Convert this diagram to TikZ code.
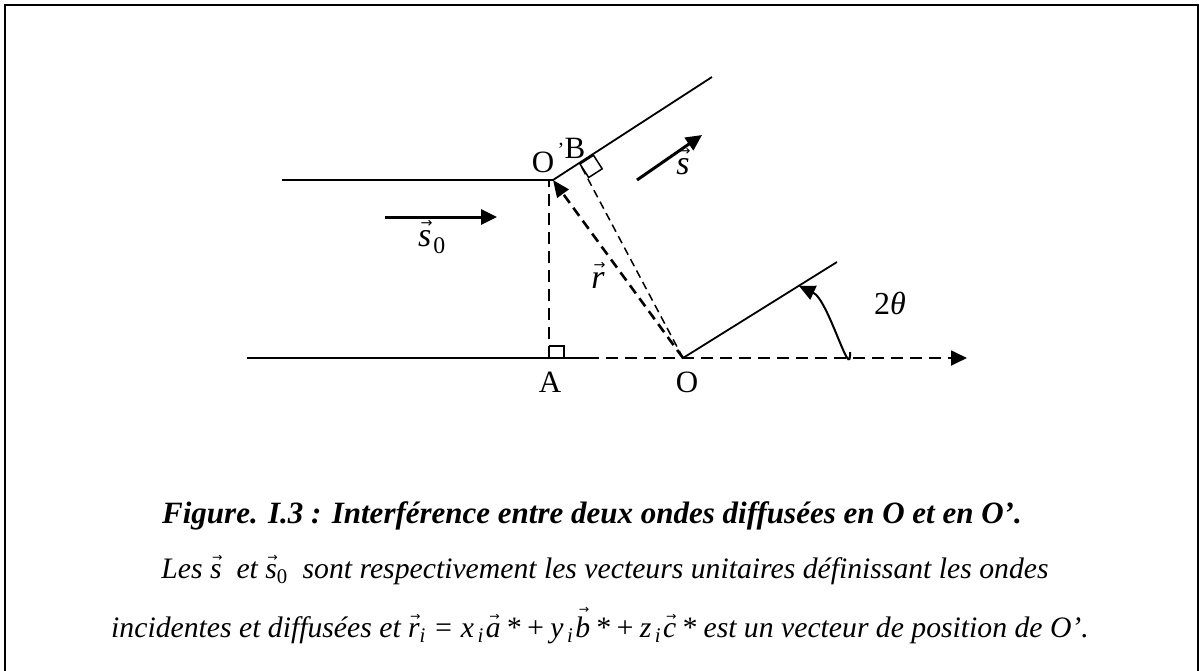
\documentclass[tikz,border=0pt]{standalone}
\usepackage{graphicx}
\usepackage{fontspec}
\setmainfont{Liberation Serif}
\newfontfamily\arrowfont{DejaVu Sans}
\usetikzlibrary{arrows.meta,calc}
\newcommand\vvraise[2]{{\ooalign{#2\cr\hidewidth\kern0.1em\raisebox{#1}{\scalebox{0.42}[0.4]{\upshape\arrowfont →}}\hidewidth\cr}}}
\newcommand\vv[1]{\vvraise{0.55em}{#1}}
\newcommand\vvtall[1]{\vvraise{0.8em}{#1}}
\begin{document}
\begin{tikzpicture}[x=1pt,y=-1pt,
  plainline/.style={line width=1.8pt},
  dashline/.style={line width=1.8pt, dash pattern=on 12pt off 7pt},
  rline/.style={line width=2.6pt, dash pattern=on 10pt off 6pt},
  bline/.style={line width=1.5pt, dash pattern=on 8pt off 5pt},
  bigtip/.style={-{Triangle[length=16pt,width=15pt]}},
  vecarrow/.style={line width=3pt, bigtip},
  lab/.style={font=\fontsize{31}{32}\selectfont, inner sep=0pt},
  mlab/.style={font=\fontsize{34}{34}\selectfont\itshape, inner sep=0pt},
  captext/.style={anchor=base, inner sep=0pt}]
\useasboundingbox (0,0) rectangle (1199,670);
% frame
\draw[line width=2.5pt] (5,672) -- (5,5) -- (1197.8,5) -- (1197.8,672);
% points
\coordinate (Op) at (553,180);
\coordinate (L1) at (282,180);
\coordinate (U1) at (712,77);
\coordinate (A) at (549,358);
\coordinate (O) at (683,358);
\coordinate (L2) at (247,358);
\coordinate (L2e) at (592,358);
\coordinate (E) at (967,358);
\coordinate (U2) at (837,262);
\coordinate (B) at (580,164);
\coordinate (S1) at (637,180);
\coordinate (S2) at (702,135);
\coordinate (T1) at (385,217);
\coordinate (T2) at (497,217);
\coordinate (R1) at (850,352);
\coordinate (R2) at (799,286);
% incident/diffracted wave lines
\draw[plainline] (L1) -- (Op) -- (U1);
\draw[plainline] (L2) -- (L2e);
\draw[plainline] (O) -- (U2);
\draw[dashline, bigtip] (A) -- (E);
% perpendiculars
\draw[dashline] (A) -- (A |- Op);
\draw[rline, -{Triangle[length=17pt,width=14pt]}] (O) -- (Op);
\draw[bline] (O) -- (B);
% right-angle marks
\draw[line width=1.5pt] (A) ++(0,-12) -- ++(15,0) -- ++(0,12);
\draw[line width=1.5pt] (B) -- (593.5,155.3) -- (602.2,168.8) -- (588.7,177.5) -- cycle;
% vectors
\draw[vecarrow] (S1) -- (S2);
\draw[vecarrow] (T1) -- (T2);
\draw[line width=2pt, bigtip] (R1) to[out=-88,in=-25] (R2);
% labels
\node[lab] (lO1) at (543,162) {O};
\node[inner sep=0pt, font=\fontsize{20}{20}\selectfont] (lap) at (561,150) {’};
\node[lab] (lB) at (575,148) {B};
\node[lab] (lA) at (550,382) {A};
\node[lab] (lO) at (687,382) {O};
\node[mlab] (ls) at (683,166) {\vv{s}};
\node[mlab] (ls0) at (432,242) {\vv{s}\kern2pt\textsubscript{\upshape 0}};
\node[mlab] (lr) at (598,280) {\vv{r}};
\node[mlab, font=\fontsize{32}{32}\selectfont\itshape] (lth) at (890,303) {{\upshape 2}θ};
% caption
\node[captext, font=\fontsize{31}{36}\selectfont\bfseries\itshape] (c1) at (592,523)
  {Figure. I.3 : Interférence entre deux ondes diffusées en O et en O’.};
\node[captext, font=\fontsize{29.7}{36}\selectfont\itshape] (c2) at (605,578)
  {Les \vv{s}\ \ et \vv{s}\textsubscript{\upshape 0}\ \ sont respectivement les vecteurs unitaires définissant les ondes};
\node[captext, font=\fontsize{29.7}{36}\selectfont\itshape] (c3) at (600,637)
  {incidentes et diffusées et \vv{r}\textsubscript{i} = x\textsubscript{\,i}\kern2pt\vv{a}\,*\,+\,y\textsubscript{\,i}\kern2pt\vvtall{b}\,*\,+\,z\textsubscript{\,i}\kern2pt\vv{c}\,* est un vecteur de position de O’.};
\end{tikzpicture}
\end{document}
